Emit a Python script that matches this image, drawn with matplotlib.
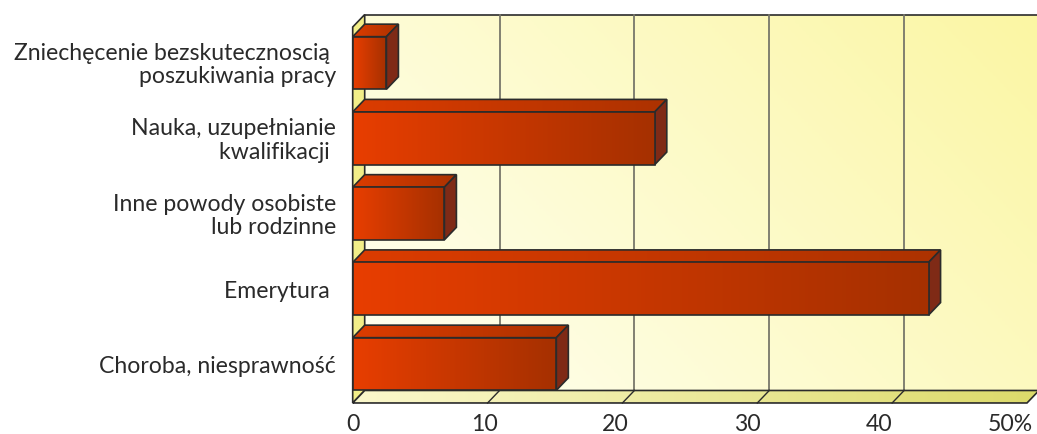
import numpy as np
import matplotlib.pyplot as plt
from matplotlib.patches import Polygon
from matplotlib.colors import LinearSegmentedColormap

# data, bottom to top
categories = ["Choroba, niesprawność",
              "Emerytura ",
              "Inne powody osobiste\nlub rodzinne",
              "Nauka, uzupełnianie\nkwalifikacji ",
              "Zniechęcenie bezskutecznoscią \nposzukiwania pracy"]
values = [15.1, 42.7, 6.8, 22.4, 2.5]
ticks = [0, 10, 20, 30, 40, 50]
tick_labels = ["0", "10", "20", "30", "40", "50%"]

plt.rcParams['font.family'] = ['Lato', 'DejaVu Sans']

fig = plt.figure(figsize=(10.37, 4.34), dpi=100)
ax = fig.add_axes([0, 0, 1, 1])
ax.axis('off')

# pixel scale of the chart
px_x = 13.486   # px per percent
px_y = 75.25    # px per category
dx = 12 / px_x  # depth offset
dy = 12.5 / px_y
y_floor = -0.518
y_top = 4.478
edge = '#2b2b2b'


def grad_fill(poly_xy, c0, c1, z, diag=False):
    poly = Polygon(poly_xy, closed=True, fc='none', ec='none')
    ax.add_patch(poly)
    xy = np.array(poly_xy)
    x0, x1 = xy[:, 0].min(), xy[:, 0].max()
    y0, y1 = xy[:, 1].min(), xy[:, 1].max()
    if diag:
        gx, gy = np.meshgrid(np.linspace(0, 1, 200), np.linspace(0, 1, 200))
        g = 0.65 * gx + 0.35 * gy
    else:
        g = np.linspace(0, 1, 256).reshape(1, -1)
    cmap = LinearSegmentedColormap.from_list('g', [c0, c1])
    im = ax.imshow(g, extent=[x0, x1, y0, y1], cmap=cmap, aspect='auto',
                   origin='lower', zorder=z, interpolation='bilinear')
    im.set_clip_path(poly)


def outline(poly_xy, z, lw=1.2, color=edge):
    ax.add_patch(Polygon(poly_xy, closed=True, fc='none', ec=color, lw=lw, zorder=z))


xmax = 52
# back wall
wall = [(dx, y_floor + dy), (xmax, y_floor + dy), (xmax, y_top + dy), (dx, y_top + dy)]
grad_fill(wall, '#fffff2', '#fbf6a2', 1, diag=True)
ax.plot([dx, xmax], [y_top + dy, y_top + dy], color=edge, lw=1.2, zorder=2)
for v in ticks[1:-1]:
    ax.plot([v + dx, v + dx], [y_floor + dy, y_top + dy], color='#77776a', lw=1.3, zorder=2)

# left wall
lwall = [(0, y_floor), (dx, y_floor + dy), (dx, y_top + dy), (0, y_top)]
ax.add_patch(Polygon(lwall, closed=True, fc='#f2ee88', ec=edge, lw=1.2, zorder=3))

# floor
floor = [(0, y_floor), (50, y_floor), (50 + dx, y_floor + dy), (dx, y_floor + dy)]
grad_fill(floor, '#fbf8cc', '#dcda6a', 3)
outline(floor, 4)
for v in ticks[1:-1]:
    ax.plot([v, v + dx], [y_floor, y_floor + dy], color=edge, lw=1.0, zorder=4)

# bars
h = 0.35
for i, v in enumerate(values):
    yb, yt = i - h, i + h
    top = [(0, yt), (v, yt), (v + dx, yt + dy), (dx, yt + dy)]
    grad_fill(top, '#dc3c00', '#ac3200', 5)
    outline(top, 6)
    side = [(v, yb), (v + dx, yb + dy), (v + dx, yt + dy), (v, yt)]
    ax.add_patch(Polygon(side, closed=True, fc='#7f2a16', ec=edge, lw=1.2, zorder=6))
    front = [(0, yb), (v, yb), (v, yt), (0, yt)]
    grad_fill(front, '#e83e00', '#a53000', 7)
    outline(front, 8)
    ax.text(-1.24, i - 0.03, categories[i], ha='right', va='center', fontsize=16.6,
            color='#2a2a2a', linespacing=1.12)

for v, lab in zip(ticks, tick_labels):
    ax.text(v * 0.975, -0.80, lab, ha='center', va='center', fontsize=16.6, color='#2a2a2a')

ax.set_xlim(-352.7 / px_x, (1037 - 352.7) / px_x)
ax.set_ylim(-70 / px_y, 364 / px_y)

fig.savefig('out.png', dpi=100)
